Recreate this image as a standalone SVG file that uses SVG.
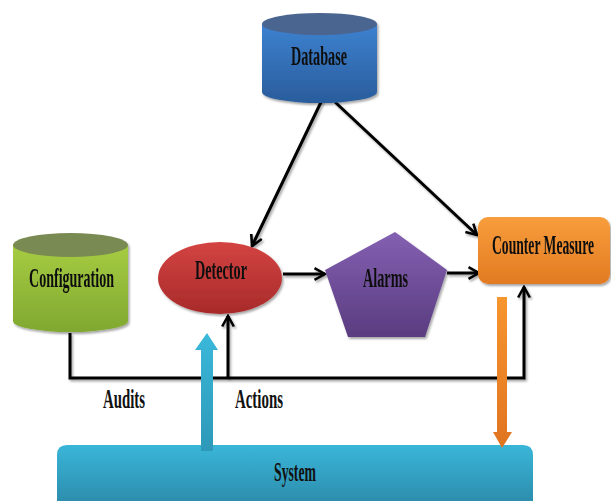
<svg xmlns="http://www.w3.org/2000/svg" width="611" height="501" viewBox="0 0 611 501">
<defs>
<style>
.lbl{font-family:"Liberation Serif","Times New Roman",serif;font-weight:bold;font-size:27px;fill:#111;text-anchor:middle}
.con{fill:none;stroke:#000;stroke-width:3;filter:url(#sh)}
</style>
<filter id="sh" filterUnits="userSpaceOnUse" x="0" y="0" width="611" height="501">
<feDropShadow dx="1.5" dy="2" stdDeviation="1.2" flood-color="#000" flood-opacity="0.35"/>
</filter>
<marker id="ah" viewBox="0 0 12 12" refX="10" refY="6" markerWidth="14" markerHeight="14" markerUnits="userSpaceOnUse" orient="auto">
<path d="M1,1 L10,6 L1,11" fill="none" stroke="#000" stroke-width="2.2"/>
</marker>
<linearGradient id="gBlue" x1="0" y1="0" x2="0" y2="1"><stop offset="0" stop-color="#3d82d0"/><stop offset="1" stop-color="#2a5c9c"/></linearGradient>
<linearGradient id="gGreen" x1="0" y1="0" x2="0" y2="1"><stop offset="0" stop-color="#a6cc42"/><stop offset="1" stop-color="#80a830"/></linearGradient>
<linearGradient id="gRed" x1="0" y1="0" x2="0" y2="1"><stop offset="0" stop-color="#d34442"/><stop offset="1" stop-color="#a82a2a"/></linearGradient>
<linearGradient id="gPurple" x1="0" y1="0" x2="0" y2="1"><stop offset="0" stop-color="#8460b2"/><stop offset="1" stop-color="#5a3c80"/></linearGradient>
<linearGradient id="gOrange" x1="0" y1="0" x2="0" y2="1"><stop offset="0" stop-color="#f89d3c"/><stop offset="1" stop-color="#e27b22"/></linearGradient>
<linearGradient id="gCyan" x1="0" y1="0" x2="0" y2="1"><stop offset="0" stop-color="#3ab6d8"/><stop offset="1" stop-color="#2d8eae"/></linearGradient>
<linearGradient id="gCyanA" x1="0" y1="1" x2="0" y2="0"><stop offset="0" stop-color="#2e98b8"/><stop offset="1" stop-color="#3ab8da"/></linearGradient>
<linearGradient id="gOrangeA" x1="0" y1="0" x2="0" y2="1"><stop offset="0" stop-color="#f7952e"/><stop offset="1" stop-color="#e07420"/></linearGradient>
</defs>

<g id="connectors">
<line class="con" x1="322" y1="100" x2="252" y2="246" marker-end="url(#ah)"/>
<line class="con" x1="335" y1="102" x2="477" y2="235" marker-end="url(#ah)"/>
<line class="con" x1="283" y1="274" x2="325" y2="274" marker-end="url(#ah)"/>
<line class="con" x1="447" y1="273" x2="479" y2="273" marker-end="url(#ah)"/>
<polyline class="con" points="70,333 70,378 524,378 524,287" marker-end="url(#ah)"/>
<line class="con" x1="228" y1="378" x2="228" y2="316" marker-end="url(#ah)"/>
<text class="lbl" x="124" y="408" textLength="42" lengthAdjust="spacingAndGlyphs">Audits</text>
<text class="lbl" x="259" y="408" textLength="48" lengthAdjust="spacingAndGlyphs">Actions</text>
</g>

<g id="database" filter="url(#sh)">
<path d="M262,24 L262,92 A57.5,11 0 0 0 377,92 L377,24 Z" fill="url(#gBlue)"/>
<ellipse cx="319.5" cy="24" rx="57.5" ry="11" fill="#4a6590"/>
<text class="lbl" x="319" y="65" textLength="56" lengthAdjust="spacingAndGlyphs">Database</text>
</g>

<g id="configuration" filter="url(#sh)">
<path d="M13,245 L13,321 A57.5,11 0 0 0 128,321 L128,245 Z" fill="url(#gGreen)"/>
<ellipse cx="70.5" cy="245" rx="57.5" ry="12" fill="#7a8a52"/>
<text class="lbl" x="71.5" y="287" textLength="85" lengthAdjust="spacingAndGlyphs">Configuration</text>
</g>

<g id="detector" filter="url(#sh)">
<ellipse cx="220" cy="278" rx="62" ry="36" fill="url(#gRed)"/>
<text class="lbl" x="221" y="279" textLength="52" lengthAdjust="spacingAndGlyphs">Detector</text>
</g>

<g id="alarms" filter="url(#sh)">
<polygon points="395,232 447,270 425,337 348,337 325,270" fill="url(#gPurple)"/>
<text class="lbl" x="385.5" y="287" textLength="45" lengthAdjust="spacingAndGlyphs">Alarms</text>
</g>

<g id="counter-measure" filter="url(#sh)">
<rect x="478" y="217" width="132" height="67" rx="10" fill="url(#gOrange)"/>
<text class="lbl" transform="translate(543,254) scale(0.5,1)" x="0" y="0" textLength="204" lengthAdjust="spacingAndGlyphs">Counter Measure</text>
</g>

<g id="system">
<path d="M57,501 L57,455 Q57,445 67,445 L523,445 Q533,445 533,455 L533,501 Z" fill="url(#gCyan)"/>
<text class="lbl" x="295" y="481" textLength="42" lengthAdjust="spacingAndGlyphs">System</text>
</g>

<g id="system-arrow">
<polygon points="201,451 201,350 195,350 207,333 218,350 213,350 213,451" fill="url(#gCyanA)"/>
</g>

<g id="counter-arrow">
<polygon points="497,297 507,297 507,432 512,432 502,448 493,432 497,432" fill="url(#gOrangeA)"/>
</g>
</svg>
